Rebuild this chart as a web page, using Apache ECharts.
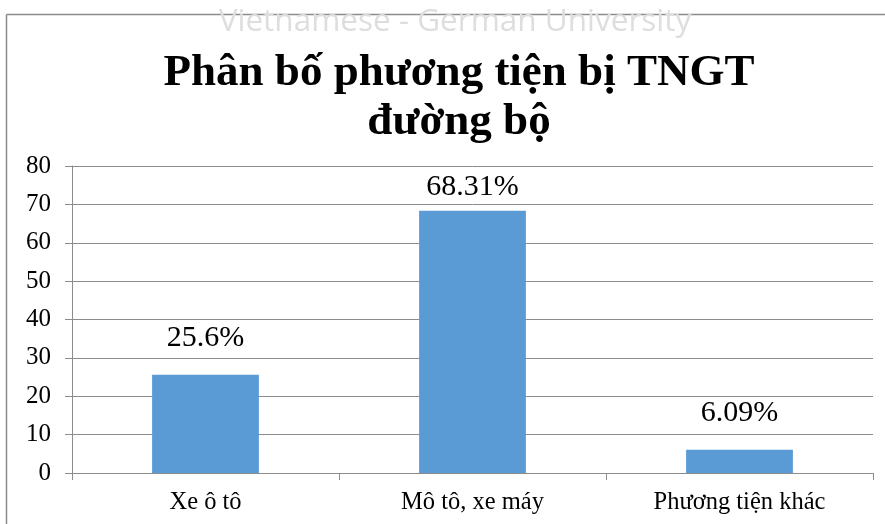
<!DOCTYPE html>
<html><head><meta charset="utf-8">
<script src="https://cdn.jsdelivr.net/npm/echarts@6/dist/echarts.min.js"></script>
<style>html,body{margin:0;padding:0;background:#fff}#c{width:885px;height:524px}</style>
</head><body><div id="c"></div>
<script>
const categories = ['Xe ô tô', 'Mô tô, xe máy', 'Phương tiện khác'];
const values = [25.6, 68.31, 6.09];
const valueLabels = ['25.6%', '68.31%', '6.09%'];
const labelDistances = [22, 9, 22];

const chart = echarts.init(document.getElementById('c'), null, {renderer: 'canvas'});
const serif = '"Liberation Serif", "DejaVu Serif", serif';
chart.setOption({
  animation: false,
  backgroundColor: '#fff',
  title: {
    text: 'Phân bố phương tiện bị TNGT\nđường bộ',
    left: 454, top: 44, textAlign: 'center',
    textStyle: {fontFamily: serif, fontWeight: 'bold', fontSize: 45, lineHeight: 49, color: '#000'}
  },
  graphic: [
    {type: 'line', shape: {x1: 6.5, y1: 14.5, x2: 885, y2: 14.5}, style: {stroke: '#8c8c8c', lineWidth: 1.5}},
    {type: 'line', shape: {x1: 6.5, y1: 14.5, x2: 6.5, y2: 524}, style: {stroke: '#8c8c8c', lineWidth: 1.5}},
    {type: 'text', x: 455, y: 22, z: 10,
     style: {text: 'Vietnamese - German University', fontFamily: '"Open Sans", sans-serif', fontSize: 31.5,
             fill: '#dedede', align: 'center', verticalAlign: 'middle'}}
  ],
  grid: {left: 72, right: 12, top: 166, bottom: 51},
  xAxis: {
    type: 'category', data: categories,
    axisLine: {lineStyle: {color: '#8c8c8c'}},
    axisTick: {show: true, length: 7, lineStyle: {color: '#8c8c8c'}},
    axisLabel: {fontFamily: serif, fontSize: 24.5, color: '#000', margin: 17}
  },
  yAxis: {
    type: 'value', min: 0, max: 80, interval: 10,
    axisLine: {show: true, lineStyle: {color: '#8c8c8c'}},
    axisTick: {show: true, length: 7, lineStyle: {color: '#8c8c8c'}},
    splitLine: {lineStyle: {color: '#8c8c8c'}},
    axisLabel: {fontFamily: serif, fontSize: 25, color: '#000', margin: 21}
  },
  series: [{
    type: 'bar', barWidth: '40%',
    data: values.map((v, i) => ({value: v, label: {distance: labelDistances[i]}})),
    itemStyle: {color: '#5b9bd5'},
    label: {show: true, position: 'top',
      formatter: p => valueLabels[p.dataIndex],
      fontFamily: serif, fontSize: 30, color: '#000'}
  }]
});
</script></body></html>
